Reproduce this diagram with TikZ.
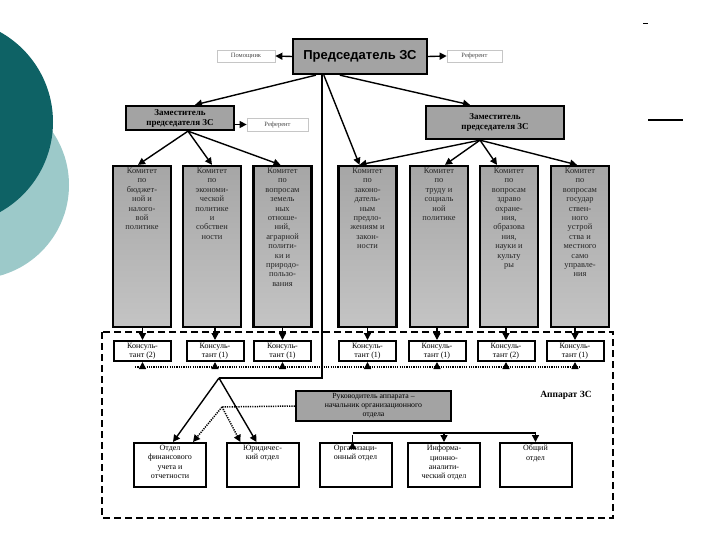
\documentclass[tikz,border=0pt]{standalone}
\usepackage{fontspec}
\setmainfont{Liberation Serif}
\newfontfamily\chairfont{Liberation Sans}
\usetikzlibrary{arrows.meta,calc}
\definecolor{tealdark}{HTML}{0E6265}
\definecolor{teallight}{HTML}{9CC9C9}
\definecolor{boxgray}{HTML}{A3A3A3}
\definecolor{commtop}{HTML}{A6A6A6}
\definecolor{commbot}{HTML}{C4C4C4}
\begin{document}
\begin{tikzpicture}[x=1pt,y=-1pt,
  >={Triangle[length=7pt,width=7pt]},
  gbox/.style={draw=black,line width=2.3pt,fill=boxgray,inner sep=1pt,align=center},
  comm/.style={draw=black,line width=2.3pt,top color=commtop,bottom color=commbot,minimum width=58pt,minimum height=161pt,inner sep=0pt},
  ctext/.style={anchor=north,align=center,inner sep=0pt,text=black!85,font=\fontsize{8.4}{9.4}\selectfont},
  cons/.style={draw=black,line width=2pt,fill=white,minimum width=57pt,minimum height=20pt,inner sep=0pt,align=center,font=\fontsize{8}{9}\selectfont},
  dept/.style={draw=black,line width=2pt,fill=white,minimum width=72pt,minimum height=44pt,inner sep=0pt},
  dtext/.style={anchor=north,align=center,inner sep=0pt,font=\fontsize{8}{9.3}\selectfont},
  smallbox/.style={draw=gray!45,line width=0.8pt,fill=white,inner sep=0pt,text=gray!60!black,font=\fontsize{6.5}{7}\selectfont},
  conn/.style={line width=1.4pt,->},
  plain/.style={line width=1.4pt},
  dotc/.style={line width=1.5pt,dash pattern=on 1.2pt off 1.1pt}
]
\useasboundingbox (0,0) rectangle (720,540);
\begin{scope}
\clip (0,0) rectangle (720,540);
\fill[teallight] (-25,185) circle[radius=94pt];
\fill[tealdark] (-50,122) circle[radius=103pt];
\end{scope}
\draw[line width=1.3pt] (648,120) -- (683,120);
\draw[line width=1pt] (643,24) -- (648,24);

% apparatus frame
\draw[line width=1.6pt,dash pattern=on 7pt off 4pt] (102,332) rectangle (613,518);
\node[font=\bfseries\fontsize{9.5}{10}\selectfont] (app) at (566,395) {Аппарат ЗС};

% top
\node[gbox,minimum width=134pt,minimum height=35pt,font=\chairfont\bfseries\fontsize{13}{14}\selectfont] (chair) at (360,56.5) {Председатель ЗС};
\node[smallbox,minimum width=58pt,minimum height=12pt] (pom) at (246,56) {Помощник};
\node[smallbox,minimum width=55pt,minimum height=12pt] (ref1) at (474.5,56) {Референт};
\draw[conn] (chair.west) -- (pom.east);
\draw[conn] (chair.east) -- (ref1.west);

\node[gbox,minimum width=108pt,minimum height=24pt,font=\bfseries\fontsize{9}{10}\selectfont] (dep1) at (180,118) {Заместитель\\председателя ЗС};
\node[gbox,minimum width=138pt,minimum height=33pt,font=\bfseries\fontsize{9}{10.5}\selectfont] (dep2) at (495,122.5) {Заместитель\\председателя ЗС};
\node[smallbox,minimum width=61pt,minimum height=13pt] (ref2) at (277.5,124.5) {Референт};
\draw[conn] (dep1.east |- ref2.west) -- (ref2.west);

% committees
\node[comm] (c1) at (142,246.5) {};
\node[comm] (c2) at (212,246.5) {};
\node[comm] (c3) at (282.5,246.5) {};
\node[comm] (c4) at (367.5,246.5) {};
\node[comm] (c5) at (439,246.5) {};
\node[comm] (c6) at (509,246.5) {};
\node[comm] (c7) at (580,246.5) {};
\node[ctext] (c1t) at ($(c1.north)+(0,3)$) {Комитет\\по\\бюджет-\\ной и\\налого-\\вой\\политике};
\node[ctext] (c2t) at ($(c2.north)+(0,3)$) {Комитет\\по\\экономи-\\ческой\\политике\\и\\собствен\\ности};
\node[ctext] (c3t) at ($(c3.north)+(0,3)$) {Комитет\\по\\вопросам\\земель\\ных\\отноше-\\ний,\\аграрной\\полити-\\ки и\\природо-\\пользо-\\вания};
\node[ctext] (c4t) at ($(c4.north)+(0,3)$) {Комитет\\по\\законо-\\датель-\\ным\\предло-\\жениям и\\закон-\\ности};
\node[ctext] (c5t) at ($(c5.north)+(0,3)$) {Комитет\\по\\труду и\\социаль\\ной\\политике};
\node[ctext] (c6t) at ($(c6.north)+(0,3)$) {Комитет\\по\\вопросам\\здраво\\охране-\\ния,\\образова\\ния,\\науки и\\культу\\ры};
\node[ctext] (c7t) at ($(c7.north)+(0,3)$) {Комитет\\по\\вопросам\\государ\\ствен-\\ного\\устрой\\ства и\\местного\\само\\управле-\\ния};

% chairman connectors
\coordinate (v0) at ($(chair.south west)+(30,0)$);
\coordinate (apex) at (219,378);
\draw[conn] ($(chair.south west)+(24,0)$) -- ($(dep1.north)+(15,0)$);
\draw[conn] ($(chair.south west)+(48,0)$) -- ($(dep2.north)+(-25,0)$);
\draw[conn] ($(chair.south west)+(32,0)$) -- ($(c4.north)+(-8,0)$);
\draw[plain] (v0) -- (v0 |- apex) -- (apex);

% deputy connectors
\coordinate (d1o) at ($(dep1.south)+(8,0)$);
\draw[conn] (d1o) -- ($(c1.north)+(-4,0)$);
\draw[conn] (d1o) -- (c2.north);
\draw[conn] (d1o) -- ($(c3.north)+(-2,0)$);
\coordinate (d2o) at ($(dep2.south)+(-15,0)$);
\draw[conn] (d2o) -- ($(c4.north)+(-8,0)$);
\draw[conn] (d2o) -- ($(c5.north)+(6,0)$);
\draw[conn] (d2o) -- ($(c6.north)+(-12,0)$);
\draw[conn] (d2o) -- ($(c7.north)+(-3,0)$);

% consultants
\node[cons] (k1) at (142.5,351) {Консуль-\\тант (2)};
\node[cons] (k2) at (215,351) {Консуль-\\тант (1)};
\node[cons] (k3) at (282.5,351) {Консуль-\\тант (1)};
\node[cons] (k4) at (367.5,351) {Консуль-\\тант (1)};
\node[cons] (k5) at (437,351) {Консуль-\\тант (1)};
\node[cons] (k6) at (506,351) {Консуль-\\тант (2)};
\node[cons] (k7) at (575,351) {Консуль-\\тант (1)};
\foreach \c/\k in {c1/k1,c2/k2,c3/k3,c4/k4,c5/k5,c6/k6,c7/k7}{
  \draw[conn] (\k.north |- \c.south) -- (\k.north);
}
\coordinate (dl1) at (135,367);
\coordinate (dl2) at (580,367);
\draw[dotc] (dl1) -- (dl2);
\foreach \k in {k1,k2,k3,k4,k5,k6,k7}{
  \draw[line width=1.4pt,->] (\k.south |- dl1) -- (\k.south);
}

% head of apparatus
\node[gbox,minimum width=155pt,minimum height=30pt,font=\fontsize{7.8}{9}\selectfont] (ruk) at (373.5,406) {Руководитель аппарата –\\начальник организационного\\отдела};
\draw[dotc] ($(ruk.north)+(-5.5,0)$) -- ($(ruk.north)+(-5.5,0)$ |- dl1);

% departments
\node[dept] (b1) at (170,465) {};
\node[dept] (b2) at (262.5,465) {};
\node[dept] (b3) at (355.5,465) {};
\node[dept] (b4) at (444,465) {};
\node[dept] (b5) at (535.5,465) {};
\node[dtext] (b1t) at ($(b1.north)+(0,3)$) {Отдел\\финансового\\учета и\\отчетности};
\node[dtext] (b2t) at ($(b2.north)+(0,3)$) {Юридичес-\\кий отдел};
\node[dtext] (b3t) at ($(b3.north)+(0,3)$) {Организаци-\\онный отдел};
\node[dtext] (b4t) at ($(b4.north)+(0,3)$) {Информа-\\ционно-\\аналити-\\ческий отдел};
\node[dtext] (b5t) at ($(b5.north)+(0,3)$) {Общий\\отдел};

\draw[conn] ($(b3.north)+(-3,0)$ |- ruk.south) -- ($(b3.north)+(-3,0)$);
\coordinate (hj) at ($(b3.north)+(-3,-9)$);
\draw[plain] (hj) -- (hj -| b5.north);
\draw[conn] (hj -| b4.north) -- (b4.north);
\draw[conn] (hj -| b5.north) -- (b5.north);

\draw[conn] (apex) -- ($(b1.north)+(3,0)$);
\draw[conn] (apex) -- ($(b2.north)+(-6,0)$);
\coordinate (dapex) at (222,407);
\draw[dotc] (ruk.west) -- (dapex);
\draw[dotc,->] (dapex) -- ($(b1.north)+(23,0)$);
\draw[dotc,->] (dapex) -- ($(b2.north)+(-22,0)$);
\end{tikzpicture}
\end{document}
